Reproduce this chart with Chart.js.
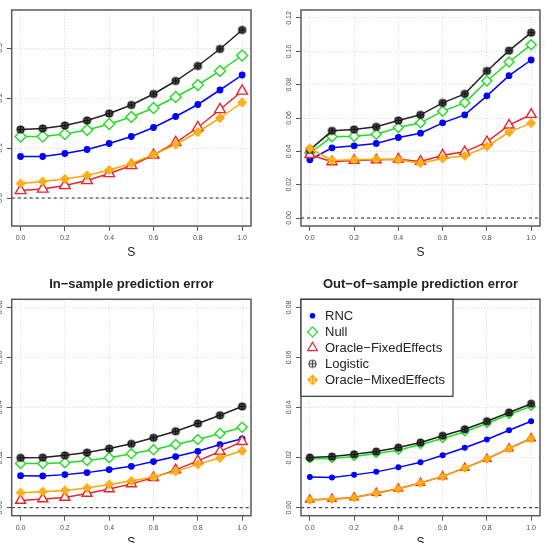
<!DOCTYPE html>
<html>
<head>
<meta charset="utf-8">
<script src="https://cdn.jsdelivr.net/npm/chart.js@4.4.1/dist/chart.umd.min.js"></script>
<style>
  body { margin: 0; background: #fff; }
  #wrap { position: relative; width: 550px; height: 543px; overflow: hidden; }
  canvas { position: absolute; }
</style>
</head>
<body>
<div id="wrap">
  <canvas id="chart1" width="275" height="270" style="left:0;top:0"></canvas>
  <canvas id="chart2" width="275" height="270" style="left:275px;top:0"></canvas>
  <canvas id="chart3" width="275" height="273" style="left:0;top:270px"></canvas>
  <canvas id="chart4" width="275" height="273" style="left:275px;top:270px"></canvas>
</div>
<script>
// x values shared by every panel
const sValues = [0, 0.1, 0.2, 0.3, 0.4, 0.5, 0.6, 0.7, 0.8, 0.9, 1.0];
const seriesNames = ['RNC', 'Null', 'Oracle\u2212FixedEffects', 'Logistic', 'Oracle\u2212MixedEffects'];

// top left panel
const p1Rnc = [0.083, 0.083, 0.089, 0.097, 0.109, 0.123, 0.141, 0.163, 0.187, 0.216, 0.246];
const p1Null = [0.123, 0.123, 0.128, 0.136, 0.148, 0.162, 0.180, 0.202, 0.226, 0.254, 0.285];
const p1Fixed = [0.015, 0.018, 0.025, 0.035, 0.049, 0.065, 0.086, 0.111, 0.141, 0.177, 0.214];
const p1Logistic = [0.137, 0.139, 0.145, 0.155, 0.169, 0.186, 0.208, 0.234, 0.264, 0.298, 0.336];
const p1Mixed = [0.029, 0.033, 0.038, 0.045, 0.056, 0.069, 0.087, 0.107, 0.132, 0.160, 0.191];

// top right panel
const p2Rnc = [0.0349, 0.0421, 0.0433, 0.0447, 0.0483, 0.0509, 0.0571, 0.0619, 0.0733, 0.0854, 0.0948];
const p2Null = [0.0390, 0.0487, 0.0491, 0.0503, 0.0543, 0.0571, 0.0641, 0.0691, 0.0822, 0.0936, 0.1040];
const p2Fixed = [0.0380, 0.0337, 0.0345, 0.0349, 0.0353, 0.0339, 0.0377, 0.0397, 0.0457, 0.0557, 0.0621];
const p2Logistic = [0.0409, 0.0523, 0.0531, 0.0547, 0.0585, 0.0619, 0.0691, 0.0745, 0.0882, 0.1004, 0.1112];
const p2Mixed = [0.0417, 0.0345, 0.0349, 0.0353, 0.0349, 0.0329, 0.0357, 0.0373, 0.0429, 0.0515, 0.0569];

// in-sample prediction error
const p3Rnc = [0.0128, 0.0127, 0.0132, 0.0140, 0.0152, 0.0165, 0.0184, 0.0204, 0.0225, 0.0252, 0.0275];
const p3Null = [0.0176, 0.0176, 0.0179, 0.0188, 0.0199, 0.0215, 0.0231, 0.0252, 0.0272, 0.0296, 0.0321];
const p3Fixed = [0.0029, 0.0035, 0.0041, 0.0057, 0.0075, 0.0095, 0.0120, 0.0151, 0.0187, 0.0225, 0.0264];
const p3Logistic = [0.0199, 0.0200, 0.0209, 0.0220, 0.0236, 0.0255, 0.0279, 0.0305, 0.0336, 0.0369, 0.0404];
const p3Mixed = [0.0060, 0.0064, 0.0069, 0.0079, 0.0093, 0.0107, 0.0123, 0.0145, 0.0173, 0.0199, 0.0227];

// out-of-sample prediction error
const p4Rnc = [0.0123, 0.0121, 0.0131, 0.0143, 0.0161, 0.0181, 0.0209, 0.0239, 0.0272, 0.0309, 0.0345];
const p4Null = [0.0195, 0.0196, 0.0204, 0.0216, 0.0229, 0.0252, 0.0276, 0.0303, 0.0336, 0.0372, 0.0405];
const p4Fixed = [0.0032, 0.0035, 0.0041, 0.0059, 0.0076, 0.0099, 0.0125, 0.0159, 0.0195, 0.0237, 0.0277];
const p4Logistic = [0.0200, 0.0204, 0.0213, 0.0224, 0.0240, 0.0260, 0.0287, 0.0313, 0.0345, 0.0380, 0.0415];
const p4Mixed = [0.0031, 0.0034, 0.0040, 0.0058, 0.0075, 0.0098, 0.0124, 0.0158, 0.0194, 0.0236, 0.0276];

const colors = ['#0000ff', '#22dd22', '#e8262e', '#222222', '#ffa500'];
const FONT = '"Liberation Sans", Arial, sans-serif';

// little canvases for the R symbols chart.js does not have
function circlePlus(r, fill) {
    const c = document.createElement('canvas');
    const s = Math.ceil(r * 2 + 4);
    c.width = c.height = s;
    const g = c.getContext('2d');
    const m = s / 2;
    g.beginPath();
    g.arc(m, m, r, 0, Math.PI * 2);
    if (fill) { g.fillStyle = fill; g.fill(); }
    g.lineWidth = 1.2;
    g.strokeStyle = fill ? '#111' : '#444';
    g.stroke();
    g.beginPath();
    g.moveTo(m - r, m); g.lineTo(m + r, m);
    g.moveTo(m, m - r); g.lineTo(m, m + r);
    g.stroke();
    return c;
}

function diamondPlus(r, fill) {
    const c = document.createElement('canvas');
    const s = Math.ceil(r * 2 + 4);
    c.width = c.height = s;
    const g = c.getContext('2d');
    const m = s / 2;
    g.beginPath();
    g.moveTo(m - r, m); g.lineTo(m, m - r); g.lineTo(m + r, m); g.lineTo(m, m + r); g.closePath();
    g.fillStyle = fill;
    g.fill();
    g.lineWidth = 1.3;
    g.strokeStyle = '#ffa500';
    g.stroke();
    g.beginPath();
    g.moveTo(m - r, m); g.lineTo(m + r, m);
    g.moveTo(m, m - r); g.lineTo(m, m + r);
    g.stroke();
    return c;
}

const legendStyles = [
    { pointStyle: 'circle', radius: 2.2, fill: colors[0] },
    { pointStyle: 'rectRot', radius: 5, fill: '#fff' },
    { pointStyle: 'triangle', radius: 5.5, fill: '#fff' },
    { pointStyle: circlePlus(3.5, null), radius: 3.5, fill: '#fff' },
    { pointStyle: diamondPlus(4.5, '#fff'), radius: 4.5, fill: '#fff' }
];

const panelDecor = {
    id: 'panelDecor',
    beforeDatasetsDraw(chart) {
        const ctx = chart.ctx, a = chart.chartArea;
        const y0 = chart.scales.y.getPixelForValue(0);
        ctx.save();
        ctx.strokeStyle = '#222';
        ctx.lineWidth = 1;
        ctx.setLineDash([3, 3]);
        ctx.beginPath();
        ctx.moveTo(a.left, y0);
        ctx.lineTo(a.right, y0);
        ctx.stroke();
        ctx.restore();
    },
    afterDraw(chart, args, opts) {
        const ctx = chart.ctx, a = chart.chartArea;
        ctx.save();
        // frame
        ctx.strokeStyle = '#5a5a5a';
        ctx.lineWidth = 1.5;
        ctx.strokeRect(a.left, a.top, a.right - a.left, a.bottom - a.top);

        ctx.fillStyle = '#4d4d4d';
        ctx.font = '7px ' + FONT;
        ctx.textAlign = 'center';
        ctx.textBaseline = 'middle';
        // y tick labels, rotated like R
        const ys = chart.scales.y;
        ys.ticks.forEach(t => {
            const y = ys.getPixelForValue(t.value);
            ctx.save();
            ctx.translate(a.left - 12, y);
            ctx.rotate(-Math.PI / 2);
            ctx.fillText(t.value.toFixed(opts.decimals), 0, 0);
            ctx.restore();
        });
        const xs = chart.scales.x;
        xs.ticks.forEach(t => {
            ctx.fillText(t.value.toFixed(1), xs.getPixelForValue(t.value), a.bottom + 12);
        });

        // axis title
        ctx.fillStyle = '#222';
        ctx.font = '12px ' + FONT;
        ctx.fillText('S', (a.left + a.right) / 2, a.bottom + 27);

        if (opts.title) {
            ctx.font = 'bold 13px ' + FONT;
            ctx.fillText(opts.title, (a.left + a.right) / 2, a.top - 15);
        }

        if (opts.legend) {
            const w = 152, h = 97;
            ctx.fillStyle = '#fff';
            ctx.fillRect(a.left, a.top, w, h);
            ctx.strokeStyle = '#333';
            ctx.lineWidth = 1.2;
            ctx.strokeRect(a.left, a.top, w, h);
            ctx.font = '13px ' + FONT;
            ctx.textAlign = 'left';
            chart.data.datasets.forEach((ds, i) => {
                const y = a.top + 16.5 + i * 16;
                const mx = a.left + 11.5;
                const st = legendStyles[i];
                ctx.fillStyle = st.fill;
                ctx.strokeStyle = colors[i];
                ctx.lineWidth = 1.2;
                Chart.helpers.drawPoint(ctx, {
                    pointStyle: st.pointStyle,
                    radius: st.radius,
                    borderWidth: 1.2,
                    rotation: 0
                }, mx, y);
                ctx.fillStyle = '#222';
                ctx.fillText(ds.label, a.left + 24, y + 0.5);
            });
        }
        ctx.restore();
    }
};

function makeDatasets(values, sizes) {
    const styles = [
        { pointStyle: 'circle', radius: sizes[0], bg: colors[0] },
        { pointStyle: 'rectRot', radius: sizes[1], bg: '#fff' },
        { pointStyle: 'triangle', radius: sizes[2], bg: '#fff' },
        { pointStyle: circlePlus(sizes[3], '#4a4a4a'), radius: sizes[3], bg: '#333' },
        { pointStyle: diamondPlus(sizes[4], '#ffd080'), radius: sizes[4], bg: '#ffa500' }
    ];
    return values.map((vals, i) => ({
        label: seriesNames[i],
        data: vals.map((v, j) => ({ x: sValues[j], y: v })),
        borderColor: colors[i],
        backgroundColor: colors[i],
        borderWidth: 1.5,
        pointStyle: styles[i].pointStyle,
        pointRadius: styles[i].radius,
        pointBackgroundColor: styles[i].bg,
        pointBorderColor: colors[i],
        pointBorderWidth: 1.4,
        order: 5 - i
    }));
}

function makePanel(id, values, cfg) {
    const canvas = document.getElementById(id);
    const W = canvas.width, H = canvas.height;
    return new Chart(canvas, {
        type: 'line',
        data: { datasets: makeDatasets(values, cfg.sizes) },
        plugins: [panelDecor],
        options: {
            responsive: false,
            animation: false,
            layout: { padding: { left: cfg.area[0], right: W - cfg.area[1], top: cfg.area[2], bottom: 0 } },
            elements: { line: { tension: 0 } },
            plugins: {
                legend: { display: false },
                tooltip: { enabled: false },
                panelDecor: {
                    decimals: cfg.decimals,
                    title: cfg.title,
                    legend: cfg.legend
                }
            },
            scales: {
                x: {
                    type: 'linear',
                    min: -0.04,
                    max: 1.04,
                    ticks: { display: false, stepSize: 0.2, includeBounds: false },
                    grid: { color: '#d8d8d8', tickLength: 5, tickColor: '#555', tickWidth: 1 },
                    border: { display: false, dash: [1, 2] },
                    afterFit: function (scale) { scale.height = H - cfg.area[3]; }
                },
                y: {
                    type: 'linear',
                    min: cfg.yRange[0],
                    max: cfg.yRange[1],
                    ticks: { display: false, stepSize: cfg.step, includeBounds: false },
                    grid: { color: '#d8d8d8', tickLength: 5, tickColor: '#555', tickWidth: 1 },
                    border: { display: false, dash: [1, 2] },
                    afterFit: function (scale) { scale.width = 0; }
                }
            }
        }
    });
}

makePanel('chart1', [p1Rnc, p1Null, p1Fixed, p1Logistic, p1Mixed], {
    area: [11.7, 251, 10, 226], yRange: [-0.056, 0.376], step: 0.1, decimals: 1,
    sizes: [2.7, 5.5, 6.2, 3.5, 4]
});

makePanel('chart2', [p2Rnc, p2Null, p2Fixed, p2Logistic, p2Mixed], {
    area: [26, 265, 10, 226], yRange: [-0.0048, 0.1248], step: 0.02, decimals: 2,
    sizes: [2.7, 5, 5.8, 3.5, 4]
});

makePanel('chart3', [p3Rnc, p3Null, p3Fixed, p3Logistic, p3Mixed], {
    area: [11.7, 251, 29.3, 245.7], yRange: [-0.0032, 0.0832], step: 0.02, decimals: 2,
    sizes: [2.7, 5, 5.8, 3.5, 4], title: 'In\u2212sample prediction error'
});

makePanel('chart4', [p4Rnc, p4Null, p4Fixed, p4Logistic, p4Mixed], {
    area: [26, 265, 29.3, 245.7], yRange: [-0.0032, 0.0832], step: 0.02, decimals: 2,
    sizes: [2.3, 4, 4.8, 3.3, 3.8], title: 'Out\u2212of\u2212sample prediction error', legend: true
});
</script>
</body>
</html>
